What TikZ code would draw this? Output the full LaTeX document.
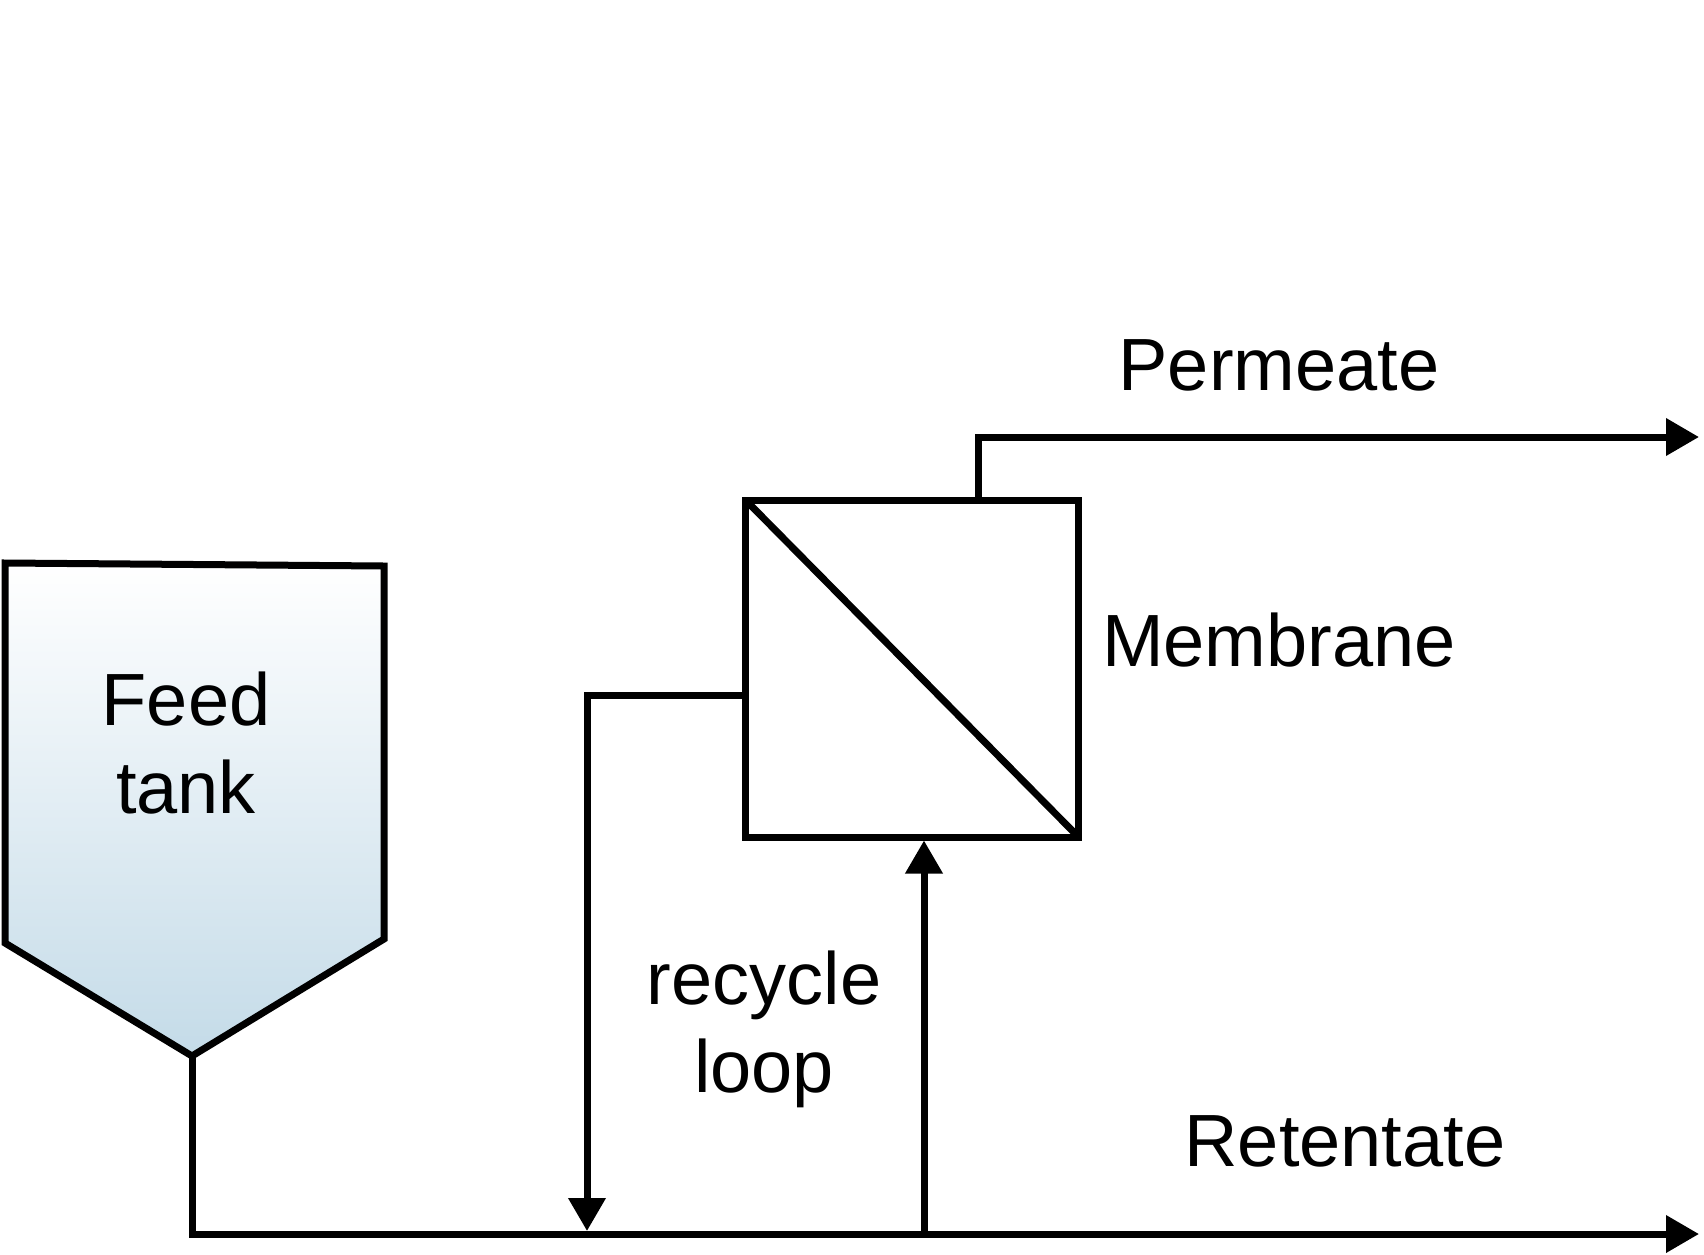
\documentclass[tikz,border=0pt]{standalone}
\usepackage{fontspec}
\setmainfont{Liberation Sans}
\usetikzlibrary{arrows.meta}
\definecolor{tanktop}{RGB}{255,255,255}
\definecolor{tankbottom}{RGB}{196,219,232}
\begin{document}
\begin{tikzpicture}[
        x=0.5pt, y=-0.5pt,
        line/.style={line width=3.5pt, line join=miter},
        forward/.style={line, -{Triangle[length=16.5pt, width=18pt]}},
        label/.style={font=\fontsize{37pt}{44pt}\selectfont, align=center, text=black}
    ]
        \useasboundingbox (0, 0) rectangle (1704, 1254);
        % feed tank
        \draw[line, top color=tanktop, bottom color=tankbottom] (5, 563) -- (384, 566) -- (384, 939) -- (192, 1056) -- (5, 943) -- cycle;
        \coordinate (tip) at (192, 1056);
        \node[label] (tank) at (186, 743) {Feed\\tank};
        % membrane
        \node[draw, line width=3.5pt, minimum width=166.5pt, minimum height=168.5pt, inner sep=0pt, anchor=north west] (mem) at (742, 496.5) {};
        \draw[line] ([shift={(4, 4)}]mem.north west) -- ([shift={(-4, -4)}]mem.south east);
        \node[label] (memlabel) at (1279, 640) {Membrane};
        % streams
        \coordinate (junction) at (192, 1234);
        \coordinate (end) at (1699, 1234);
        \coordinate (back) at (587, 1231);
        \coordinate (up) at (924, 1234);
        \coordinate (perm) at (1699, 437);
        \draw[forward] (tip) -- (junction) -- (end);
        \draw[forward] (up) -- (up |- mem.south);
        \draw[forward] (mem.west |- 0, 695) -| (back);
        \draw[forward] (mem.north -| 978, 0) |- (perm);
        \node[label] (permeate) at (1279, 365) {Permeate};
        \node[label] (recycle) at (764, 1029) {recycle\\loop};
        \node[label] (retentate) at (1345, 1141) {Retentate};
    \end{tikzpicture}
\end{document}
